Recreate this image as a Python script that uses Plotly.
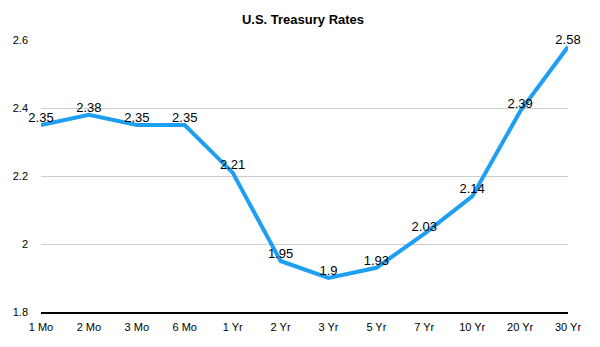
import plotly.graph_objects as go

categories = ["1 Mo", "2 Mo", "3 Mo", "6 Mo", "1 Yr", "2 Yr", "3 Yr", "5 Yr", "7 Yr", "10 Yr", "20 Yr", "30 Yr"]
rates = [2.35, 2.38, 2.35, 2.35, 2.21, 1.95, 1.9, 1.93, 2.03, 2.14, 2.39, 2.58]
labels = ["2.35", "2.38", "2.35", "2.35", "2.21", "1.95", "1.9", "1.93", "2.03", "2.14", "2.39", "2.58"]
y_ticks = [1.8, 2.0, 2.2, 2.4, 2.6]
y_tick_text = ["1.8", "2", "2.2", "2.4", "2.6"]

fig = go.Figure()
fig.add_trace(go.Scatter(
    x=categories, y=rates, mode="lines+text",
    text=labels, textposition="top center",
    textfont=dict(family="Liberation Sans, Arial, sans-serif", size=13, color="#000"),
    line=dict(color="#1e9ff2", width=4),
    cliponaxis=False, showlegend=False,
))

fig.update_layout(
    width=600, height=347,
    margin=dict(l=41, r=32, t=40, b=35),
    paper_bgcolor="white", plot_bgcolor="white",
    font=dict(family="Liberation Sans, Arial, sans-serif", size=11, color="#000"),
    title=dict(text="<b>U.S. Treasury Rates</b>", x=0.505, xanchor="center", y=0.945, yanchor="middle",
               font=dict(size=13, color="#000")),
)
fig.update_xaxes(
    type="category", range=[0, 11], showgrid=False, showline=True, linecolor="#000", linewidth=1.5,
    ticks="", ticklabelstandoff=4, tickfont=dict(size=11),
)
fig.update_yaxes(
    range=[1.8, 2.6], tickvals=y_ticks, ticktext=y_tick_text, showgrid=True, gridcolor="#cccccc",
    gridwidth=1, zeroline=False, showline=False, ticks="", ticklabelstandoff=12, tickfont=dict(size=11),
)

fig.write_html("out.html")
